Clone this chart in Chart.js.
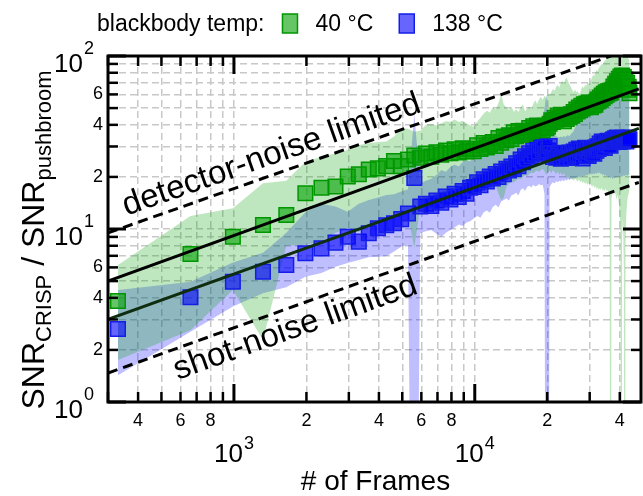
<!DOCTYPE html>
<html>
<head>
<meta charset="utf-8">
<script src="https://cdn.jsdelivr.net/npm/chart.js@4.4.1/dist/chart.umd.min.js"></script>
<style>
  html, body { margin: 0; padding: 0; background: #fff; }
  #wrap { width: 643px; height: 496px; }
</style>
</head>
<body>
<div id="wrap"><canvas id="chart" width="643" height="496"></canvas></div>
<script>
// number of frames (one point every 330 frames)
const frames = [
  330, 660, 990, 1320, 1650, 1980, 2310, 2640, 2970, 3300,
  3630, 3960, 4290, 4620, 4950, 5280, 5610, 5940, 6270, 6600,
  6930, 7260, 7590, 7920, 8250, 8580, 8910, 9240, 9570, 9900,
  10230, 10560, 10890, 11220, 11550, 11880, 12210, 12540, 12870, 13200,
  13530, 13860, 14190, 14520, 14850, 15180, 15510, 15840, 16170, 16500,
  16830, 17160, 17490, 17820, 18150, 18480, 18810, 19140, 19470, 19800,
  20130, 20460, 20790, 21120, 21450, 21780, 22110, 22440, 22770, 23100,
  23430, 23760, 24090, 24420, 24750, 25080, 25410, 25740, 26070, 26400,
  26730, 27060, 27390, 27720, 28050, 28380, 28710, 29040, 29370, 29700,
  30030, 30360, 30690, 31020, 31350, 31680, 32010, 32340, 32670, 33000,
  33330, 33660, 33990, 34320, 34650, 34980, 35310, 35640, 35970, 36300,
  36630, 36960, 37290, 37620, 37950, 38280, 38610, 38940, 39270, 39600,
  39930, 40260, 40590, 40920, 41250, 41580, 41910, 42240, 42570, 42900,
  43230, 43560, 43890
];

// 40 °C blackbody
const snr40 = [
  3.84, 7.17, 9.02, 10.55, 12.05, 16.1, 17.3, 17.6, 20.1, 20.7,
  22.1, 22.4, 23.1, 24.7, 23.1, 25.2, 26.6, 25.8, 27.3, 26.2,
  27.8, 26.9, 28.4, 27.4, 28.9, 27.7, 29.3, 28.1, 29.0, 28.2,
  30.5, 29.0, 31.4, 29.6, 30.8, 31.8, 30.2, 33.6, 31.5, 34.2,
  32.6, 34.8, 33.1, 36.2, 34.4, 36.8, 35.0, 37.0, 35.6, 36.5,
  38.4, 36.8, 39.2, 37.5, 39.6, 38.0, 39.1, 37.2, 39.5, 38.3,
  39.0, 40.6, 42.5, 41.6, 44.0, 42.8, 45.2, 43.6, 45.8, 44.1,
  42.0, 44.9, 43.2, 45.5, 44.3, 46.0, 45.1, 47.5, 46.3, 49.0,
  47.8, 50.4, 48.6, 51.5, 49.7, 52.6, 50.5, 53.2, 51.4, 53.9,
  52.0, 50.6, 53.0, 51.8, 53.6, 52.3, 54.5, 56.0, 54.8, 57.5,
  55.9, 59.0, 57.2, 60.4, 58.6, 61.8, 59.7, 62.5, 60.8, 63.0,
  61.4, 62.2, 63.8, 66.5, 64.0, 69.0, 66.8, 71.5, 68.7, 73.8,
  70.4, 76.0, 72.6, 77.0, 74.3, 75.6, 71.8, 73.2, 67.5, 70.0,
  63.8, 66.4, 61.0
];
const snr40Hi = [
  6.2, 11.9, 13.2, 18.4, 19.0, 24.5, 26.2, 27.4, 28.6, 30.6,
  31.3, 31.8, 32.0, 34.2, 38.3, 38.0, 36.5, 37.0, 40.0, 40.5,
  39.6, 40.8, 42.0, 41.7, 43.0, 41.5, 42.3, 40.8, 39.8, 39.0,
  41.5, 44.0, 46.5, 48.2, 47.0, 50.7, 49.0, 53.5, 60.0, 52.3,
  50.5, 48.8, 51.0, 47.6, 49.2, 47.5, 50.8, 52.5, 48.0, 49.5,
  51.2, 49.0, 53.0, 55.4, 52.8, 56.0, 58.2, 55.6, 59.0, 57.2,
  60.5, 59.5, 62.0, 64.5, 63.0, 66.2, 68.0, 65.5, 70.2, 72.0,
  69.0, 73.5, 75.0, 71.2, 68.5, 66.0, 63.5, 62.0, 64.2, 61.5,
  63.0, 60.5, 61.0, 64.5, 66.8, 65.0, 68.5, 67.0, 70.5, 69.0,
  69.8, 72.5, 75.0, 78.2, 76.5, 80.4, 83.0, 81.5, 84.8, 86.4,
  88.0, 90.5, 89.0, 92.6, 94.0, 94.8, 97.0, 99.5, 103, 106,
  110, 115, 120, 125, 130, 128, 135, 132, 138, 130,
  140, 136, 145, 138, 132, 126, 118, 112, 106, 101,
  98, 96, 95
];
const snr40Lo = [
  1.75, 2.6, 4.44, 2.28, 8.0, 8.1, 8.45, 9.5, 10.1, 9.6,
  10.3, 10.8, 11.3, 11.8, 12.1, 12.0, 7.8, 13.5, 13.8, 14.0,
  14.3, 14.5, 14.2, 14.8, 15.1, 14.9, 15.4, 15.8, 15.5, 16.0,
  16.5, 16.2, 17.0, 16.8, 17.5, 17.2, 17.8, 16.0, 14.7, 15.2,
  17.5, 18.2, 18.8, 18.5, 19.2, 19.6, 19.4, 20.0, 20.5, 20.2,
  20.8, 21.2, 21.0, 21.5, 21.8, 21.4, 21.9, 22.2, 21.6, 20.5,
  21.2, 21.8, 21.0, 22.0, 21.4, 20.8, 21.5, 20.6, 21.2, 20.4,
  21.0, 20.2, 19.6, 20.0, 19.2, 19.8, 19.4, 19.0, 19.6, 19.2,
  18.8, 19.4, 18.6, 19.0, 18.4, 18.8, 18.2, 18.6, 18.0, 18.4,
  17.8, 18.2, 17.5, 18.0, 17.2, 17.8, 17.0, 17.5, 16.8, 17.2,
  16.8, 17.4, 16.6, 17.0, 16.5, 17.2, 16.4, 16.8, 15.8, 14.5,
  0.001, 15.0, 16.2, 15.8, 16.5, 15.6, 16.2, 15.0, 15.8, 14.2,
  12.5, 10.0, 0.001, 9.0, 11.5, 6.0, 0.001, 8.0, 12.0, 14.0,
  15.5, 16.0, 16.8
];

// 138 °C blackbody
const snr138 = [
  2.64, 4.03, 4.96, 5.66, 6.19, 7.24, 7.73, 8.34, 9.03, 8.45,
  9.44, 10.1, 10.5, 10.8, 11.4, 12.3, 19.7, 13.5, 14.0, 13.6,
  14.6, 14.2, 15.4, 14.8, 16.0, 15.3, 16.6, 16.0, 17.3, 17.5,
  18.6, 17.9, 19.4, 18.8, 20.1, 19.6, 20.8, 20.0, 21.5, 20.7,
  22.3, 21.8, 23.0, 22.2, 24.0, 23.1, 25.2, 24.3, 26.3, 25.5,
  27.4, 26.4, 28.6, 27.2, 29.8, 28.1, 30.5, 28.8, 29.6, 27.3,
  28.4, 30.2, 27.5, 26.1, 27.2, 25.8, 27.0, 26.4, 25.5, 27.4,
  26.2, 27.6, 25.7, 26.9, 27.7, 26.0, 27.3, 28.0, 26.5, 28.7,
  27.1, 29.2, 26.8, 28.4, 25.6, 27.9, 29.5, 27.0, 28.8, 26.4,
  28.1, 29.4, 27.6, 28.9, 27.2, 29.6, 28.3, 30.1, 29.0, 31.2,
  29.8, 32.0, 30.5, 31.6, 29.4, 31.9, 30.7, 32.4, 31.0, 32.2,
  30.3, 31.8, 32.6, 33.0, 32.0, 33.5, 32.4, 33.8, 32.8, 33.4,
  31.8, 33.1, 32.5, 33.7, 32.2, 33.3, 32.7, 33.6, 32.1, 33.2,
  32.6, 33.8, 32.9
];
const snr138Hi = [
  4.44, 4.96, 6.4, 7.3, 9.5, 12.5, 14.0, 13.5, 12.6, 14.0,
  14.7, 15.2, 15.7, 15.9, 16.5, 17.0, 46.0, 18.4, 19.0, 19.5,
  20.5, 21.9, 21.4, 22.9, 23.6, 23.0, 24.4, 25.0, 24.6, 26.2,
  27.0, 26.4, 28.5, 29.4, 28.8, 31.0, 31.8, 30.9, 33.2, 34.0,
  33.5, 35.2, 36.0, 35.4, 37.2, 37.8, 36.9, 39.0, 39.5, 38.6,
  40.6, 41.0, 40.2, 42.0, 42.4, 41.5, 43.0, 44.5, 50.0, 60.0,
  48.0, 41.0, 38.5, 36.0, 35.0, 34.5, 34.0, 33.8, 34.2, 33.9,
  34.5, 34.0, 34.6, 35.0, 34.2, 35.5, 36.0, 37.0, 38.5, 40.0,
  42.0, 43.8, 44.6, 46.5, 45.8, 47.8, 48.9, 47.6, 49.6, 50.4,
  49.8, 51.4, 50.6, 52.3, 51.7, 53.4, 52.6, 54.2, 53.8, 55.0,
  55.6, 54.8, 56.4, 56.0, 57.4, 56.6, 57.8, 57.2, 58.5, 58.0,
  58.8, 59.4, 58.7, 59.6, 60.2, 59.5, 60.4, 59.9, 60.8, 60.2,
  61.0, 60.6, 61.4, 60.9, 61.5, 61.2, 61.8, 61.4, 62.0, 61.7,
  62.3, 61.9, 62.5
];
const snr138Lo = [
  1.43, 2.55, 3.56, 4.25, 4.6, 5.3, 5.57, 6.05, 6.36, 6.62,
  6.87, 6.92, 6.95, 7.4, 7.9, 8.1, 0.001, 9.48, 9.7, 9.86,
  9.4, 9.0, 9.5, 9.86, 10.2, 10.6, 10.4, 10.9, 11.1, 11.5,
  11.9, 11.6, 12.5, 12.8, 12.4, 13.4, 13.8, 13.3, 14.4, 14.7,
  15.0, 14.6, 15.6, 15.9, 16.2, 15.6, 16.8, 17.2, 16.6, 17.5,
  17.8, 17.4, 18.0, 17.6, 17.8, 18.2, 17.9, 18.0, 16.0, 0.001,
  0.001, 17.5, 18.2, 18.6, 18.4, 18.9, 18.6, 19.0, 18.8, 19.2,
  18.9, 19.3, 19.0, 19.5, 19.2, 19.6, 19.4, 19.8, 19.5, 19.9,
  19.6, 20.1, 19.8, 20.3, 20.0, 20.4, 20.2, 20.6, 20.3, 20.8,
  20.5, 20.9, 20.6, 21.0, 20.7, 21.1, 20.8, 21.2, 20.9, 21.3,
  20.7, 21.0, 20.4, 20.8, 20.2, 20.6, 20.0, 20.4, 19.8, 20.2,
  19.6, 20.0, 19.4, 19.8, 19.6, 20.0, 19.7, 20.1, 19.8, 20.2,
  19.9, 20.3, 20.0, 20.4, 20.1, 20.5, 20.2, 20.6, 20.3, 20.7,
  20.4, 20.8, 20.5
];

// fitted sqrt(N) trends and the two limiting cases (end points)
const lineFrames = [300, 48000];
const fit40 = [5.0, 64.5];
const fit138 = [3.0, 38.2];
const detectorLimit = [9.5, 114];
const shotLimit = [1.47, 18.6];

// axes
const xTicks = [300, 400, 500, 600, 700, 800, 900, 1000, 2000, 3000, 4000, 5000, 6000, 7000, 8000, 9000,
  10000, 20000, 30000, 40000];
const yTicks = [1, 2, 3, 4, 5, 6, 7, 8, 9, 10, 20, 30, 40, 50, 60, 70, 80, 90, 100];
const xMinorLabels = [400, 600, 800, 2000, 4000, 6000, 8000, 20000, 40000];
const xMajorLabels = [1000, 10000];
const yMinorLabels = [2, 4, 6, 20, 40, 60];
const yMajorLabels = [1, 10, 100];

const FONT = '"Liberation Sans", Arial, Helvetica, sans-serif';

function pts(xs, ys) {
  return xs.map((x, i) => ({ x: x, y: ys[i] }));
}

function band(label, ys, color, fill, order) {
  return {
    label: label, data: pts(frames, ys), fill: fill, backgroundColor: color,
    borderColor: 'rgba(0,0,0,0)', borderWidth: 1, pointRadius: 0, order: order
  };
}

function leadDigit(v) {
  return String(v).charAt(0);
}

function powerLabel(ctx, exp, px, baseY, expY, align) {
  ctx.font = '26px ' + FONT;
  const wBase = ctx.measureText('10').width;
  ctx.font = '18px ' + FONT;
  const wExp = ctx.measureText(exp).width;
  const w = wBase + 1 + wExp;
  const left = align === 'center' ? px - w / 2 : px - w;
  ctx.textAlign = 'left';
  ctx.font = '26px ' + FONT;
  ctx.fillText('10', left, baseY);
  ctx.font = '18px ' + FONT;
  ctx.fillText(exp, left + wBase + 1, expY);
}

const annotations = [
  { text: 'detector-noise limited', values: detectorLimit, startFrame: 370, offset: -10 },
  { text: 'shot-noise limited', values: shotLimit, startFrame: 530, offset: 30 }
];

const decorations = {
  id: 'decorations',
  afterDatasetsDraw(chart) {
    const { ctx, scales: { x, y } } = chart;
    ctx.save();
    ctx.fillStyle = '#000';
    ctx.font = '33px ' + FONT;
    ctx.textAlign = 'left';
    ctx.textBaseline = 'alphabetic';
    annotations.forEach(a => {
      const x0 = x.getPixelForValue(lineFrames[0]), y0 = y.getPixelForValue(a.values[0]);
      const x1 = x.getPixelForValue(lineFrames[1]), y1 = y.getPixelForValue(a.values[1]);
      const ang = Math.atan2(y1 - y0, x1 - x0);
      const sx = x.getPixelForValue(a.startFrame);
      const sy = y0 + (sx - x0) * (y1 - y0) / (x1 - x0);
      ctx.save();
      ctx.translate(sx, sy);
      ctx.rotate(ang);
      ctx.fillText(a.text, 0, a.offset);
      ctx.restore();
    });
    ctx.restore();
  },
  afterDraw(chart) {
    const { ctx, chartArea: a, scales: { x, y } } = chart;
    ctx.save();
    ctx.strokeStyle = '#000';
    ctx.fillStyle = '#000';
    ctx.lineCap = 'butt';

    const seg = (x1, y1, x2, y2) => {
      ctx.beginPath(); ctx.moveTo(x1, y1); ctx.lineTo(x2, y2); ctx.stroke();
    };

    // inward ticks on all four sides
    xTicks.forEach(v => {
      const px = x.getPixelForValue(v);
      const major = xMajorLabels.includes(v);
      const len = major ? 18 : 10;
      ctx.lineWidth = major ? 3 : 2.5;
      seg(px, a.bottom, px, a.bottom - len);
      seg(px, a.top, px, a.top + len);
    });
    yTicks.forEach(v => {
      const py = y.getPixelForValue(v);
      const major = yMajorLabels.includes(v);
      const len = major ? 18 : 10;
      ctx.lineWidth = major ? 3 : 2.5;
      seg(a.left, py, a.left + len, py);
      seg(a.right, py, a.right - len, py);
    });

    // frame
    ctx.lineWidth = 3;
    ctx.strokeRect(a.left, a.top, a.right - a.left, a.bottom - a.top);

    // tick labels
    ctx.textBaseline = 'alphabetic';
    ctx.font = '18px ' + FONT;
    ctx.textAlign = 'center';
    xMinorLabels.forEach(v => ctx.fillText(leadDigit(v), x.getPixelForValue(v), 426));
    xMajorLabels.forEach(v => {
      powerLabel(ctx, String(Math.round(Math.log10(v))), x.getPixelForValue(v), 462, 449, 'center');
    });
    ctx.font = '18px ' + FONT;
    ctx.textAlign = 'right';
    ctx.textBaseline = 'middle';
    yMinorLabels.forEach(v => ctx.fillText(leadDigit(v), 103, y.getPixelForValue(v)));
    ctx.textBaseline = 'alphabetic';
    yMajorLabels.forEach(v => {
      const py = y.getPixelForValue(v);
      powerLabel(ctx, String(Math.round(Math.log10(v))), 94, py + 16, py - 2, 'right');
    });

    // x axis title
    ctx.font = '28px ' + FONT;
    ctx.textAlign = 'center';
    ctx.fillText('# of Frames', (a.left + a.right) / 2 + 1, 490);

    // y axis title with subscripts
    const parts = [['SNR', 32, 0], ['CRISP', 22, 7], [' / SNR', 32, 0], ['pushbroom', 22, 7]];
    let total = 0;
    parts.forEach(p => { ctx.font = p[1] + 'px ' + FONT; total += ctx.measureText(p[0]).width; });
    ctx.save();
    ctx.translate(44, 240);
    ctx.rotate(-Math.PI / 2);
    ctx.textAlign = 'left';
    let cx = -total / 2;
    parts.forEach(p => {
      ctx.font = p[1] + 'px ' + FONT;
      ctx.fillText(p[0], cx, p[2]);
      cx += ctx.measureText(p[0]).width;
    });
    ctx.restore();

    // legend on top
    ctx.font = '23px ' + FONT;
    ctx.textAlign = 'left';
    let lx = 97;
    ctx.fillText('blackbody temp:', lx, 31);
    lx += ctx.measureText('blackbody temp:').width + 18;
    chart.data.datasets.slice(0, 2).forEach(ds => {
      ctx.fillStyle = ds.pointBackgroundColor;
      ctx.fillRect(lx, 14, 15, 19);
      ctx.strokeStyle = ds.pointBorderColor;
      ctx.lineWidth = 1.5;
      ctx.strokeRect(lx, 14, 15, 19);
      lx += 15 + 18;
      ctx.fillStyle = '#000';
      ctx.fillText(ds.label, lx, 31);
      lx += ctx.measureText(ds.label).width + 26;
    });
    ctx.restore();
  }
};

const gridOpts = { color: '#c8c8c8', lineWidth: 1.5, drawTicks: false };

new Chart(document.getElementById('chart').getContext('2d'), {
  type: 'line',
  data: {
    datasets: [
      {
        label: '40 °C', data: pts(frames, snr40), showLine: false, pointStyle: 'rect',
        pointRadius: 10.3, pointBackgroundColor: 'rgba(0,160,0,0.6)', pointBorderColor: 'rgb(0,150,0)',
        pointBorderWidth: 1.5, order: 4
      },
      {
        label: '138 °C', data: pts(frames, snr138), showLine: false, pointStyle: 'rect',
        pointRadius: 10.3, pointBackgroundColor: 'rgba(0,0,255,0.6)', pointBorderColor: 'rgb(20,30,230)',
        pointBorderWidth: 1.5, order: 5
      },
      band('40 °C upper', snr40Hi, 'rgba(0,160,0,0.25)', '+1', 6),
      band('40 °C lower', snr40Lo, 'rgba(0,160,0,0.25)', false, 6),
      band('138 °C upper', snr138Hi, 'rgba(0,0,255,0.25)', '+1', 7),
      band('138 °C lower', snr138Lo, 'rgba(0,0,255,0.25)', false, 7),
      {
        label: 'fit 40', data: pts(lineFrames, fit40), borderColor: '#000', borderWidth: 3,
        pointRadius: 0, fill: false, order: 2
      },
      {
        label: 'fit 138', data: pts(lineFrames, fit138), borderColor: '#0f2d0f', borderWidth: 3,
        pointRadius: 0, fill: false, order: 3
      },
      {
        label: 'detector-noise limited', data: pts(lineFrames, detectorLimit), borderColor: '#000',
        borderWidth: 3, borderDash: [10, 6], pointRadius: 0, fill: false, order: 1
      },
      {
        label: 'shot-noise limited', data: pts(lineFrames, shotLimit), borderColor: '#000',
        borderWidth: 3, borderDash: [10, 6], pointRadius: 0, fill: false, order: 1
      }
    ]
  },
  options: {
    responsive: false,
    devicePixelRatio: 1,
    animation: false,
    events: [],
    layout: { autoPadding: false, padding: { left: 108, top: 56, right: 2, bottom: 94 } },
    plugins: {
      legend: { display: false },
      tooltip: { enabled: false }
    },
    scales: {
      x: {
        type: 'logarithmic', min: 300, max: 49000,
        afterBuildTicks: s => { s.ticks = xTicks.map(v => ({ value: v })); },
        ticks: { display: false },
        grid: gridOpts,
        border: { display: false, dash: [7, 4] }
      },
      y: {
        type: 'logarithmic', min: 1, max: 100,
        afterBuildTicks: s => { s.ticks = yTicks.map(v => ({ value: v })); },
        ticks: { display: false },
        grid: gridOpts,
        border: { display: false, dash: [7, 4] }
      }
    }
  },
  plugins: [decorations]
});
</script>
</body>
</html>
